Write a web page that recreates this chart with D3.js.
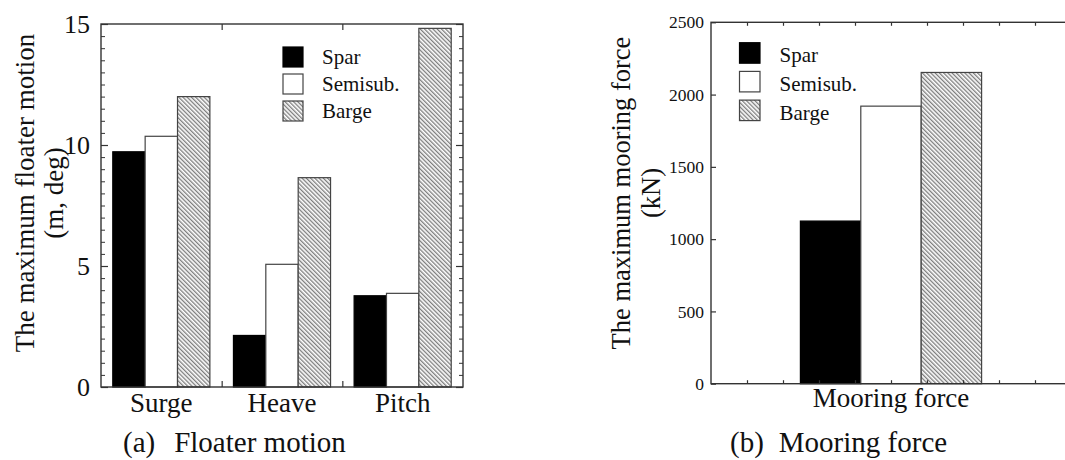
<!DOCTYPE html>
<html>
<head>
<meta charset="utf-8">
<script src="https://cdn.jsdelivr.net/npm/d3@7/dist/d3.min.js"></script>
<style>
  html, body { margin: 0; padding: 0; background: #fff; }
  svg { display: block; }
</style>
</head>
<body>
<svg id="fig" width="1065" height="460"></svg>
<script>
// ---- data ----
const seriesNames = ["Spar", "Semisub.", "Barge"];
const motionCategories = ["Surge", "Heave", "Pitch"];
const motionSpar = [9.72, 2.13, 3.77];
const motionSemisub = [10.36, 5.07, 3.87];
const motionBarge = [12.0, 8.65, 14.82];
const motionTicks = [0, 5, 10, 15];

const forceCategories = ["Mooring force"];
const forceSpar = [1125];
const forceSemisub = [1920];
const forceBarge = [2153];
const forceTicks = [0, 500, 1000, 1500, 2000, 2500];

const SERIF = '"Liberation Serif", "Times New Roman", Times, serif';

const svg = d3.select("#fig");
const defs = svg.append("defs");

// diagonal hatch used for the Barge series
defs.append("pattern")
  .attr("id", "hatch")
  .attr("patternUnits", "userSpaceOnUse")
  .attr("width", 3).attr("height", 3)
  .attr("patternTransform", "rotate(-45)")
  .call(p => {
    p.append("rect").attr("width", 3).attr("height", 3).attr("fill", "#fff");
    p.append("line").attr("x1", 0.75).attr("y1", 0).attr("x2", 0.75).attr("y2", 3)
      .attr("stroke", "#333").attr("stroke-width", 0.85);
  });

const fills = ["#000", "#fff", "url(#hatch)"];
const strokes = ["#000", "#444", "#444"];
const frameColor = "#333";

function label(sel, size) {
  return sel.style("font-family", SERIF).style("font-size", size + "px").style("fill", "#111");
}

function drawPanel(cfg) {
  const g = svg.append("g");
  const x = d3.scaleBand().domain(cfg.categories).range([cfg.left, cfg.right]).padding(0);
  const xs = d3.scaleBand().domain(seriesNames).range([0, x.bandwidth()])
    .paddingInner(0).paddingOuter(cfg.groupPad);
  const y = d3.scaleLinear().domain(cfg.yDomain).range([cfg.bottom, cfg.top]);

  const rows = cfg.categories.map((c, i) => ({
    cat: c,
    vals: [cfg.series[0][i], cfg.series[1][i], cfg.series[2][i]]
  }));

  // bars
  rows.forEach(r => {
    g.selectAll(null).data(r.vals).join("rect")
      .attr("x", (d, j) => x(r.cat) + xs(seriesNames[j]))
      .attr("y", d => y(d))
      .attr("width", xs.bandwidth())
      .attr("height", d => y(cfg.yDomain[0]) - y(d))
      .attr("fill", (d, j) => fills[j])
      .attr("stroke", (d, j) => strokes[j])
      .attr("stroke-width", 1.2);
  });

  // left axis (labelled, inward ticks)
  const left = g.append("g").attr("transform", `translate(${cfg.left},0)`)
    .call(d3.axisLeft(y).tickValues(cfg.yTicks).tickSize(-cfg.majorLen).tickPadding(cfg.labelPad + cfg.majorLen)
      .tickFormat(d3.format("d")));
  left.select(".domain").remove();
  left.selectAll(".tick line").attr("stroke", frameColor).attr("stroke-width", 1.2);
  label(left.selectAll(".tick text"), cfg.tickFont);

  if (cfg.yMinor) {
    const lm = g.append("g").attr("transform", `translate(${cfg.left},0)`)
      .call(d3.axisLeft(y).tickValues(cfg.yMinor).tickSize(-cfg.minorLen).tickFormat(""));
    lm.select(".domain").remove();
    lm.selectAll(".tick line").attr("stroke", frameColor).attr("stroke-width", 1);
  }

  // right axis (ticks only)
  const right = g.append("g").attr("transform", `translate(${cfg.right},0)`)
    .call(d3.axisRight(y).tickValues(cfg.yTicks).tickSize(-cfg.rightMajorLen).tickFormat(""));
  right.select(".domain").remove();
  right.selectAll(".tick line").attr("stroke", frameColor).attr("stroke-width", 1.2);
  if (cfg.yMinor) {
    const rm = g.append("g").attr("transform", `translate(${cfg.right},0)`)
      .call(d3.axisRight(y).tickValues(cfg.yMinor).tickSize(-cfg.minorLen).tickFormat(""));
    rm.select(".domain").remove();
    rm.selectAll(".tick line").attr("stroke", frameColor).attr("stroke-width", 1);
  }

  // top & bottom ticks
  const xt = d3.scaleLinear().domain([0, cfg.xTickCount]).range([cfg.left, cfg.right]);
  const xtv = d3.range(1, cfg.xTickCount);
  const bot = g.append("g").attr("transform", `translate(0,${cfg.bottom})`)
    .call(d3.axisBottom(xt).tickValues(xtv).tickSize(-cfg.xTickLen).tickFormat(""));
  bot.select(".domain").remove();
  bot.selectAll(".tick line").attr("stroke", frameColor).attr("stroke-width", 1.2);
  const top = g.append("g").attr("transform", `translate(0,${cfg.top})`)
    .call(d3.axisTop(xt).tickValues(xtv).tickSize(-cfg.xTickLen).tickFormat(""));
  top.select(".domain").remove();
  top.selectAll(".tick line").attr("stroke", frameColor).attr("stroke-width", 1.2);

  // frame
  g.append("rect")
    .attr("x", cfg.left).attr("y", cfg.top)
    .attr("width", cfg.right - cfg.left).attr("height", cfg.bottom - cfg.top)
    .attr("fill", "none").attr("stroke", frameColor).attr("stroke-width", 1.4);

  // category labels
  label(g.selectAll(null).data(cfg.categories).join("text")
    .attr("x", d => x(d) + x.bandwidth() / 2)
    .attr("y", cfg.catY)
    .attr("text-anchor", "middle")
    .text(d => d), cfg.catFont);

  // y title (two lines, rotated)
  const t = label(g.append("text")
    .attr("transform", `translate(${cfg.titleX},${cfg.titleY}) rotate(-90)`)
    .attr("text-anchor", "middle"), cfg.titleFont);
  t.append("tspan").attr("x", 0).attr("dy", 0).text(cfg.titleLines[0]);
  t.append("tspan").attr("x", 0).attr("dy", cfg.titleGap).text(cfg.titleLines[1]);

  // legend
  const lg = g.append("g");
  seriesNames.forEach((s, j) => {
    const yy = cfg.legTop + j * cfg.legStep;
    lg.append("rect").attr("x", cfg.legX).attr("y", yy)
      .attr("width", cfg.legBox).attr("height", cfg.legBox)
      .attr("fill", fills[j]).attr("stroke", strokes[j]).attr("stroke-width", 1.2);
    label(lg.append("text").attr("x", cfg.legTextX).attr("y", yy + cfg.legBase).text(s), cfg.legFont);
  });

  // caption
  const cap = label(g.append("text").attr("x", cfg.capX).attr("y", cfg.capY), cfg.capFont);
  cap.append("tspan").text(cfg.caption[0]);
  cap.append("tspan").attr("dx", cfg.capGap).text(cfg.caption[1]);
}

drawPanel({
  categories: motionCategories,
  series: [motionSpar, motionSemisub, motionBarge],
  left: 101, right: 463, top: 24, bottom: 387,
  groupPad: 0.364,
  yDomain: [0, 15], yTicks: motionTicks,
  yMinor: d3.range(0, 15.01, 0.5).filter(v => v % 5 !== 0),
  majorLen: 7, minorLen: 4, rightMajorLen: 7, labelPad: 4,
  tickFont: 26,
  xTickCount: 3, xTickLen: 6,
  catY: 412, catFont: 27,
  titleX: 34, titleY: 193, titleFont: 27, titleGap: 29,
  titleLines: ["The maximum floater motion", "(m, deg)"],
  legX: 283, legTop: 47, legStep: 27, legBox: 20, legTextX: 322, legBase: 17, legFont: 21,
  capX: 123, capY: 452, capFont: 29, capGap: 19,
  caption: ["(a)", "Floater motion"]
});

drawPanel({
  categories: forceCategories,
  series: [forceSpar, forceSemisub, forceBarge],
  left: 711, right: 1071, top: 22.3, bottom: 383.7,
  groupPad: 1.48,
  yDomain: [0, 2500], yTicks: forceTicks,
  yMinor: null,
  majorLen: 5, minorLen: 3, rightMajorLen: 6, labelPad: 2,
  tickFont: 17.5,
  xTickCount: 10, xTickLen: 3.5,
  catY: 407, catFont: 27,
  titleX: 630, titleY: 193, titleFont: 26.5, titleGap: 30,
  titleLines: ["The maximum mooring force", "(kN)"],
  legX: 739.5, legTop: 42.7, legStep: 28.7, legBox: 20.5, legTextX: 779.5, legBase: 19.5, legFont: 21,
  capX: 730, capY: 452, capFont: 29, capGap: 15,
  caption: ["(b)", "Mooring force"]
});
</script>
</body>
</html>
